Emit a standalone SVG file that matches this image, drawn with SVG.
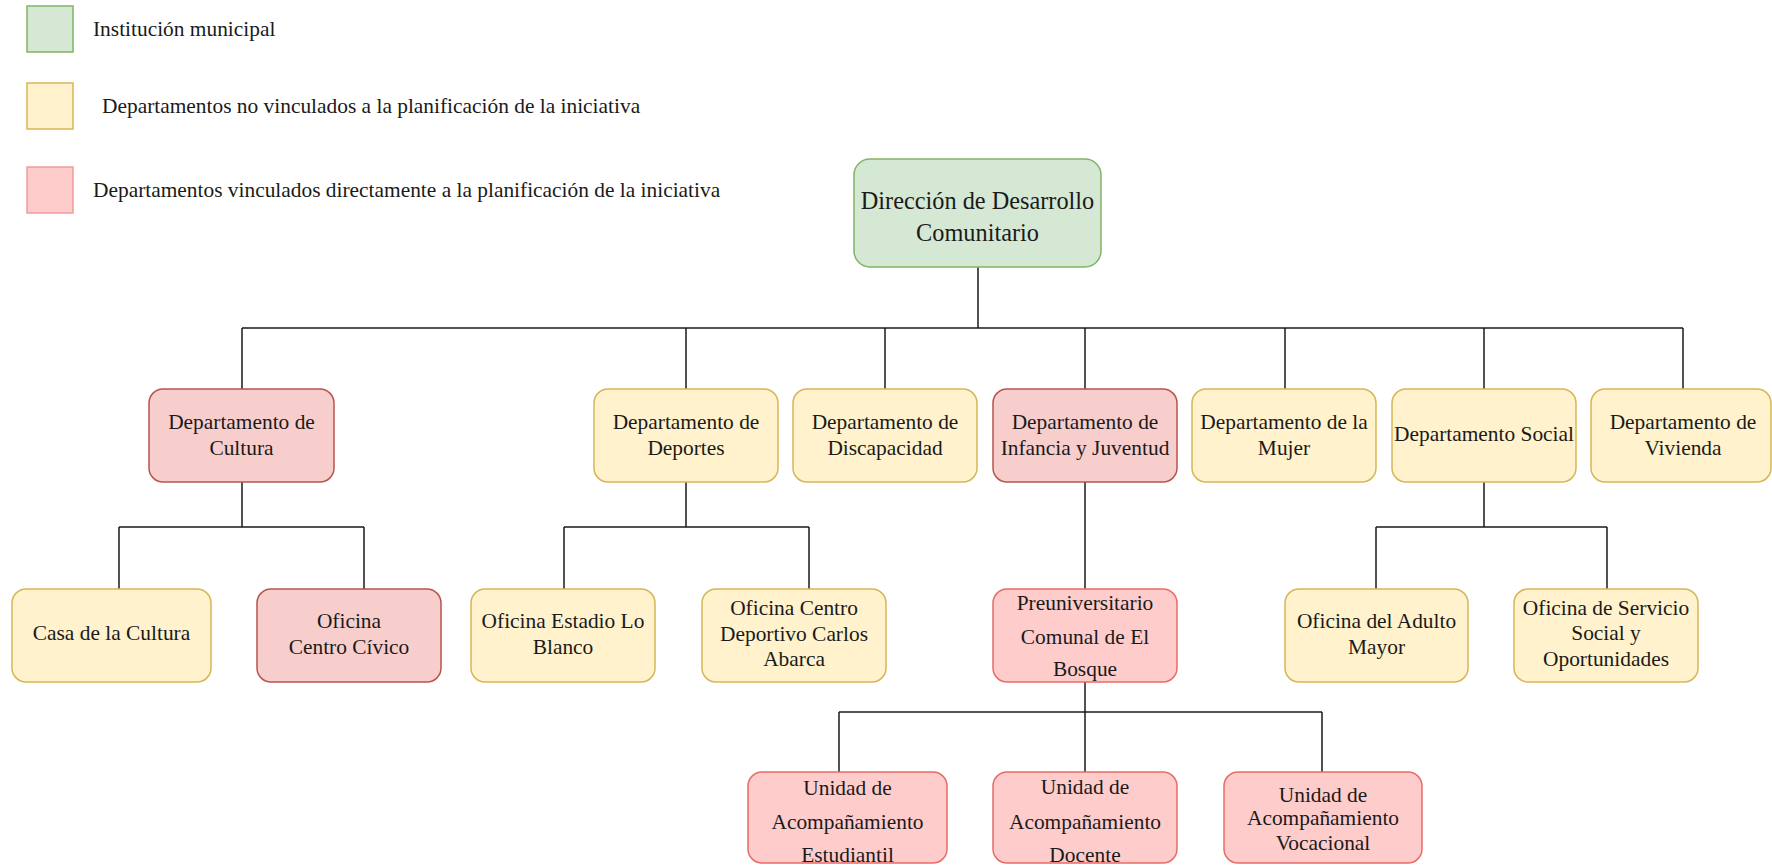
<svg xmlns="http://www.w3.org/2000/svg" width="1772" height="865" viewBox="0 0 1772 865">
<style>
text{font-family:"Liberation Serif","Times New Roman",serif;fill:#1a1a1a;text-anchor:middle;dominant-baseline:central;font-size:21.4px}
.lg{text-anchor:start;font-size:21.4px}
.root{font-size:24.3px}
.g{fill:#d5e8d4;stroke:#82b366;stroke-width:1.5}
.y{fill:#fff2cc;stroke:#d6b656;stroke-width:1.5}
.r{fill:#f8cecc;stroke:#b85450;stroke-width:1.5}
.p{fill:#ffcccc;stroke:#ea6b66;stroke-width:1.5}
.c{fill:none;stroke:#1a1a1a;stroke-width:1.5}
</style>
<rect width="1772" height="865" fill="#ffffff"/>
<g id="legend">
<rect class="g" x="27" y="6" width="46" height="46"/>
<text class="lg" x="93" y="29">Institución municipal</text>
<rect class="y" x="27" y="83" width="46" height="46"/>
<text class="lg" x="102" y="106">Departamentos no vinculados a la planificación de la iniciativa</text>
<rect class="p" x="27" y="167" width="46" height="46" style="stroke:#f19c99"/>
<text class="lg" x="93" y="190">Departamentos vinculados directamente a la planificación de la iniciativa</text>
</g>
<g id="connectors">
<path class="c" d="M978 267V328M242 328H1683M242 328V389M686 328V389M885 328V389M1085 328V389M1285 328V389M1484 328V389M1683 328V389"/>
<path class="c" d="M242 482V527M119 527H364M119 527V589M364 527V589"/>
<path class="c" d="M686 482V527M564 527H809M564 527V589M809 527V589"/>
<path class="c" d="M1085 482V589"/>
<path class="c" d="M1484 482V527M1376 527H1607M1376 527V589M1607 527V589"/>
<path class="c" d="M1085 682V772M839 712H1322M839 712V772M1322 712V772"/>
</g>
<g id="n-root"><rect class="g" x="854" y="159" width="247" height="108" rx="16"/><text class="root" x="977.5" y="200">Dirección de Desarrollo</text><text class="root" x="977.5" y="232">Comunitario</text></g>
<g id="n-cultura"><rect class="r" x="149" y="389" width="185" height="93" rx="14"/><text x="241.5" y="422">Departamento de</text><text x="241.5" y="448">Cultura</text></g>
<g id="n-deportes"><rect class="y" x="594" y="389" width="184" height="93" rx="14"/><text x="686" y="422">Departamento de</text><text x="686" y="448">Deportes</text></g>
<g id="n-discapacidad"><rect class="y" x="793" y="389" width="184" height="93" rx="14"/><text x="885" y="422">Departamento de</text><text x="885" y="448">Discapacidad</text></g>
<g id="n-infancia"><rect class="r" x="993" y="389" width="184" height="93" rx="14"/><text x="1085" y="422">Departamento de</text><text x="1085" y="448">Infancia y Juventud</text></g>
<g id="n-mujer"><rect class="y" x="1192" y="389" width="184" height="93" rx="14"/><text x="1284" y="422">Departamento de la</text><text x="1284" y="448">Mujer</text></g>
<g id="n-social"><rect class="y" x="1392" y="389" width="184" height="93" rx="14"/><text x="1484" y="434">Departamento Social</text></g>
<g id="n-vivienda"><rect class="y" x="1591" y="389" width="180" height="93" rx="14"/><text x="1683" y="422">Departamento de</text><text x="1683" y="448">Vivienda</text></g>
<g id="n-casa"><rect class="y" x="12" y="589" width="199" height="93" rx="14"/><text x="111.5" y="633">Casa de la Cultura</text></g>
<g id="n-civico"><rect class="r" x="257" y="589" width="184" height="93" rx="14"/><text x="349" y="621">Oficina</text><text x="349" y="647">Centro Cívico</text></g>
<g id="n-estadio"><rect class="y" x="471" y="589" width="184" height="93" rx="14"/><text x="563" y="621">Oficina Estadio Lo</text><text x="563" y="647">Blanco</text></g>
<g id="n-carlos"><rect class="y" x="702" y="589" width="184" height="93" rx="14"/><text x="794" y="608">Oficina Centro</text><text x="794" y="634">Deportivo Carlos</text><text x="794" y="659">Abarca</text></g>
<g id="n-preu"><rect class="p" x="993" y="589" width="184" height="93" rx="14"/><text x="1085" y="603">Preuniversitario</text><text x="1085" y="637">Comunal de El</text><text x="1085" y="669">Bosque</text></g>
<g id="n-adulto"><rect class="y" x="1285" y="589" width="183" height="93" rx="14"/><text x="1376.5" y="621">Oficina del Adulto</text><text x="1376.5" y="647">Mayor</text></g>
<g id="n-servicio"><rect class="y" x="1514" y="589" width="184" height="93" rx="14"/><text x="1606" y="608">Oficina de Servicio</text><text x="1606" y="633">Social y</text><text x="1606" y="659">Oportunidades</text></g>
<g id="n-estudiantil"><rect class="p" x="748" y="772" width="199" height="91" rx="14"/><text x="847.5" y="788">Unidad de</text><text x="847.5" y="822">Acompañamiento</text><text x="847.5" y="855">Estudiantil</text></g>
<g id="n-docente"><rect class="p" x="993" y="772" width="184" height="91" rx="14"/><text x="1085" y="787">Unidad de</text><text x="1085" y="822">Acompañamiento</text><text x="1085" y="855">Docente</text></g>
<g id="n-vocacional"><rect class="p" x="1224" y="772" width="198" height="91" rx="14"/><text x="1323" y="795">Unidad de</text><text x="1323" y="818">Acompañamiento</text><text x="1323" y="843">Vocacional</text></g>
</svg>
